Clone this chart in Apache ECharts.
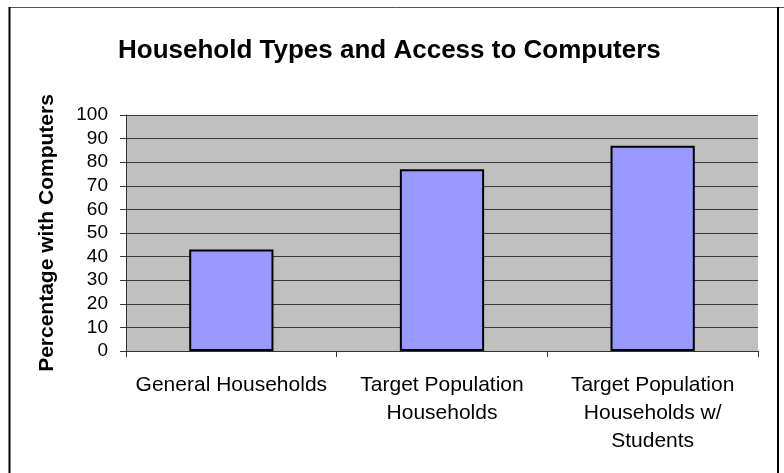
<!DOCTYPE html>
<html>
<head>
<meta charset="utf-8">
<script src="https://cdn.jsdelivr.net/npm/echarts@6/dist/echarts.min.js"></script>
<style>
html,body{margin:0;padding:0;background:#fff;}
#chart{width:784px;height:473px;}
</style>
</head>
<body>
<div id="chart"></div>
<script>
const categories = ['General Households', 'Target Population\nHouseholds', 'Target Population\nHouseholds w/\nStudents'];
const values = [43, 77, 87];
const yTicks = { min: 0, max: 100, interval: 10 };
const titleText = 'Household Types and Access to Computers';
const yName = 'Percentage with Computers';

const chart = echarts.init(document.getElementById('chart'), null, { renderer: 'canvas' });
const F = '"Liberation Sans", Arial, sans-serif';
chart.setOption({
  animation: false,
  backgroundColor: '#fff',
  title: {
    text: titleText,
    left: 113,
    top: 33,
    textStyle: { fontFamily: F, fontWeight: 'bold', fontSize: 26, color: '#000' }
  },
  grid: {
    left: 126, right: 26, top: 115, bottom: 122,
    show: true, backgroundColor: '#C0C0C0', borderWidth: 0,
    containLabel: false
  },
  xAxis: {
    type: 'category',
    data: categories,
    axisLine: { lineStyle: { color: '#333', width: 1 } },
    axisTick: { show: true, length: 6, lineStyle: { color: '#333' } },
    axisLabel: { fontFamily: F, fontSize: 21, color: '#000', margin: 20, lineHeight: 28, interval: 0 }
  },
  yAxis: {
    type: 'value',
    min: yTicks.min, max: yTicks.max, interval: yTicks.interval,
    name: yName,
    nameLocation: 'middle',
    nameGap: 68,
    nameTextStyle: { fontFamily: F, fontWeight: 'bold', fontSize: 21, color: '#000' },
    axisLine: { show: true, lineStyle: { color: '#333', width: 1 } },
    axisTick: { show: true, length: 6, lineStyle: { color: '#333' } },
    axisLabel: { fontFamily: F, fontSize: 19, color: '#000', margin: 18 },
    splitLine: { show: true, lineStyle: { color: '#3a3a3a', width: 1 } }
  },
  series: [{
    type: 'bar',
    data: values,
    barCategoryGap: '60%',
    itemStyle: { color: '#9999FF', borderColor: '#000', borderWidth: 2 }
  }],
  graphic: [
    { type: 'line', shape: { x1: 9, y1: 7.5, x2: 784, y2: 7.5 }, style: { stroke: '#555', lineWidth: 1 }, silent: true },
    { type: 'line', shape: { x1: 9.5, y1: 7, x2: 9.5, y2: 473 }, style: { stroke: '#000', lineWidth: 2 }, silent: true },
    { type: 'line', shape: { x1: 778, y1: 7, x2: 778, y2: 473 }, style: { stroke: '#000', lineWidth: 2 }, silent: true }
  ]
});
</script>
</body>
</html>
